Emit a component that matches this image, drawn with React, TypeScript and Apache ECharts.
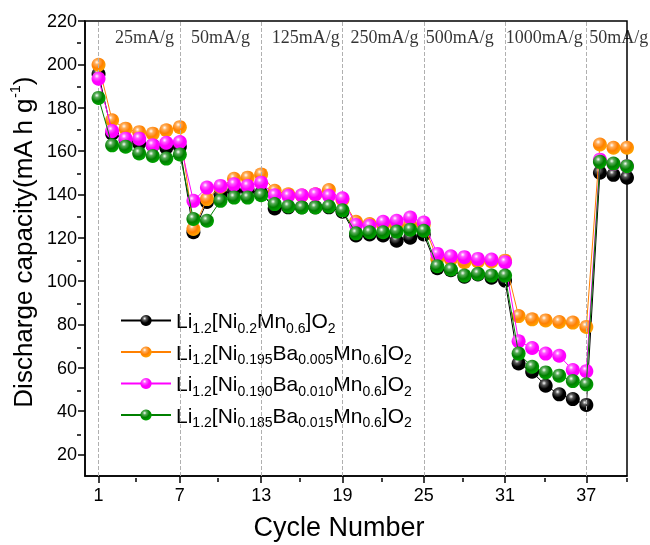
import React, { useEffect, useRef } from "react";
import * as echarts from "echarts";

const cycles = [1,2,3,4,5,6,7,8,9,10,11,12,13,14,15,16,17,18,19,20,21,22,23,24,25,26,27,28,29,30,31,32,33,34,35,36,37,38,39,40];

const seriesNames = [
  "Li1.2[Ni0.2Mn0.6]O2",
  "Li1.2[Ni0.195Ba0.005Mn0.6]O2",
  "Li1.2[Ni0.190Ba0.010Mn0.6]O2",
  "Li1.2[Ni0.185Ba0.015Mn0.6]O2",
];
const legendRich = [
  "{n|Li}{s|1.2}{n|[Ni}{s|0.2}{n|Mn}{s|0.6}{n|]O}{s|2}",
  "{n|Li}{s|1.2}{n|[Ni}{s|0.195}{n|Ba}{s|0.005}{n|Mn}{s|0.6}{n|]O}{s|2}",
  "{n|Li}{s|1.2}{n|[Ni}{s|0.190}{n|Ba}{s|0.010}{n|Mn}{s|0.6}{n|]O}{s|2}",
  "{n|Li}{s|1.2}{n|[Ni}{s|0.185}{n|Ba}{s|0.015}{n|Mn}{s|0.6}{n|]O}{s|2}",
];
const seriesColors = ["#000000", "#ff8000", "#ff00ff", "#008000"];

const blackVals = [195.5,168,165,163.5,162.5,161.5,162,122.5,136.5,140,141.5,142,140.5,133.5,134,134,134,134,132,121,121.5,121,118.6,120,121.5,105.9,105,102,103,101.5,100.2,61.9,58.1,51.7,47.7,45.5,42.8,150,149,147.7];
const orangeVals = [199.8,174.2,170.3,168.7,168,169.6,171,124,137.8,143.5,147.2,147.7,149.2,141.6,140,139.5,140,142,137.5,127.3,126.3,126,125.5,126,126,110.2,110,108.7,109,109,109.4,83.8,82.3,81.8,81.1,80.8,78.8,163,161.5,161.5];
const magentaVals = [193.4,169.2,165.7,165.7,162.6,163.8,164.1,137,143.1,143.9,144.6,143.9,145.4,139.6,139.3,139.6,140,139.3,138.2,125.8,125.5,127.3,127.8,129.3,127,112.5,111.4,111,110.2,109.9,108.7,72.2,69.1,66.5,65.5,58.9,58.4,156,154,153];
const greenVals = [184.5,162.6,162,158.9,157.7,156.5,158.4,128.6,127.8,137,138.5,138.5,139.6,135.5,134.4,133.9,133.9,134.4,132.6,122,122.5,122.5,122.8,123.7,123.2,106.8,105.3,102.5,103.3,102.5,102.5,66.5,60.4,57.8,56.3,53.8,52.3,155,154.2,153];
const allVals = [blackVals, orangeVals, magentaVals, greenVals];

const xMajorTicks = [1, 7, 13, 19, 25, 31, 37];
const xMinorTicks = [4, 10, 16, 22, 28, 34, 40];
const yMajorTicks = [20, 40, 60, 80, 100, 120, 140, 160, 180, 200, 220];
const yMinorTicks = [30, 50, 70, 90, 110, 130, 150, 170, 190, 210];

const rateLabels = ["25mA/g", "50mA/g", "125mA/g", "250mA/g", "500mA/g", "1000mA/g", "50mA/g"];
const rateLabelX = [4.4, 10.0, 16.3, 22.1, 27.65, 33.9, 39.4];
const rateLabelY = 212.6;

function ball(c: string) {
  return new echarts.graphic.RadialGradient(0.38, 0.32, 0.75, [
    { offset: 0, color: "#ffffff" },
    { offset: 0.22, color: echarts.color.lift(c, 0.35) },
    { offset: 0.55, color: c },
    { offset: 1, color: echarts.color.lift(c, -0.35) },
  ]);
}

export default function App() {
  const ref = useRef<HTMLDivElement>(null);
  useEffect(() => {
    if (!ref.current) return;
    const chart = echarts.init(ref.current, null, { renderer: "svg" });
    const gridPos = { left: 81, right: 23, top: 21, bottom: 67 };
    const lineSeries = seriesNames.map((name, i) => ({
      name,
      type: "line",
      xAxisIndex: 0,
      yAxisIndex: 0,
      data: cycles.map((c, k) => [c, allVals[i][k]]),
      symbol: "circle",
      symbolSize: 14,
      showSymbol: true,
      itemStyle: { color: ball(seriesColors[i]), borderWidth: 0 },
      lineStyle: { color: seriesColors[i], width: 1 },
      z: 3 + i,
    }));
    chart.setOption({
      animation: false,
      grid: [
        { ...gridPos, show: true, borderColor: "#000", borderWidth: 1.5, backgroundColor: "transparent" },
        { ...gridPos, show: false },
      ],
      xAxis: [
        {
          type: "value",
          gridIndex: 0,
          min: 0,
          max: 40,
          name: "Cycle Number",
          nameLocation: "middle",
          nameGap: 37,
          nameTextStyle: { fontFamily: "Liberation Sans", fontSize: 27, color: "#000", padding: [0, 34, 0, 0] },
          axisLine: { show: true, onZero: false, lineStyle: { color: "#000", width: 1.5 } },
          axisTick: { show: true, inside: false, length: 7, customValues: xMajorTicks, lineStyle: { color: "#000", width: 1.5 } },
          axisLabel: { customValues: xMajorTicks, fontFamily: "Liberation Sans", fontSize: 18, color: "#000", margin: 10 },
          splitLine: { show: false },
        },
        {
          type: "value",
          gridIndex: 1,
          min: 0,
          max: 40,
          axisLine: { show: false },
          axisTick: { show: true, inside: false, length: 4, customValues: xMinorTicks, lineStyle: { color: "#000", width: 1.5 } },
          axisLabel: { show: false },
          splitLine: { show: false },
        },
      ],
      yAxis: [
        {
          type: "value",
          gridIndex: 0,
          min: 10,
          max: 220,
          name: "{a|Discharge capacity(mA h g}{b|-1}{a|)}",
          nameLocation: "middle",
          nameRotate: 90,
          nameGap: 47,
          nameTextStyle: {
            color: "#000",
            padding: [0, 0, 0, 12],
            rich: {
              a: { fontFamily: "Liberation Sans", fontSize: 26, color: "#000", lineHeight: 30 },
              b: { fontFamily: "Liberation Sans", fontSize: 14, color: "#000", verticalAlign: "top", lineHeight: 15 },
            },
          },
          axisLine: { show: true, onZero: false, lineStyle: { color: "#000", width: 1.5 } },
          axisTick: { show: true, inside: false, length: 7, customValues: yMajorTicks, lineStyle: { color: "#000", width: 1.5 } },
          axisLabel: { customValues: yMajorTicks, fontFamily: "Liberation Sans", fontSize: 18, color: "#000", margin: 8 },
          splitLine: { show: false },
        },
        {
          type: "value",
          gridIndex: 1,
          min: 10,
          max: 220,
          axisLine: { show: false },
          axisTick: { show: true, inside: false, length: 4, customValues: yMinorTicks, lineStyle: { color: "#000", width: 1.5 } },
          axisLabel: { show: false },
          splitLine: { show: false },
        },
      ],
      legend: {
        data: seriesNames,
        orient: "vertical",
        left: 115,
        top: 305,
        itemWidth: 50,
        itemHeight: 14,
        itemGap: 7,
        formatter: (name: string) => legendRich[seriesNames.indexOf(name)],
        textStyle: {
          rich: {
            n: { fontFamily: "Liberation Sans", fontSize: 21, color: "#000", lineHeight: 28 },
            s: { fontFamily: "Liberation Sans", fontSize: 14, color: "#000", verticalAlign: "bottom", lineHeight: 15 },
          },
        },
      },
      series: [
        {
          type: "scatter",
          name: "rates",
          xAxisIndex: 0,
          yAxisIndex: 0,
          z: 1,
          symbolSize: 0,
          silent: true,
          data: rateLabels.map((t, i) => [rateLabelX[i], rateLabelY, t]),
          label: {
            show: true,
            position: "inside",
            formatter: (p: any) => p.data[2],
            fontFamily: "Liberation Serif",
            fontSize: 18,
            color: "#000",
          },
          markLine: {
            silent: true,
            symbol: "none",
            label: { show: false },
            lineStyle: { type: "dashed", color: "#b0b0b0", width: 1 },
            data: xMajorTicks.map((x) => ({ xAxis: x })),
          },
        },
        ...lineSeries,
      ],
    });
    return () => chart.dispose();
  }, []);
  return <div ref={ref} style={{ position: "fixed", left: 0, top: 0, width: 650, height: 545 }} />;
}
